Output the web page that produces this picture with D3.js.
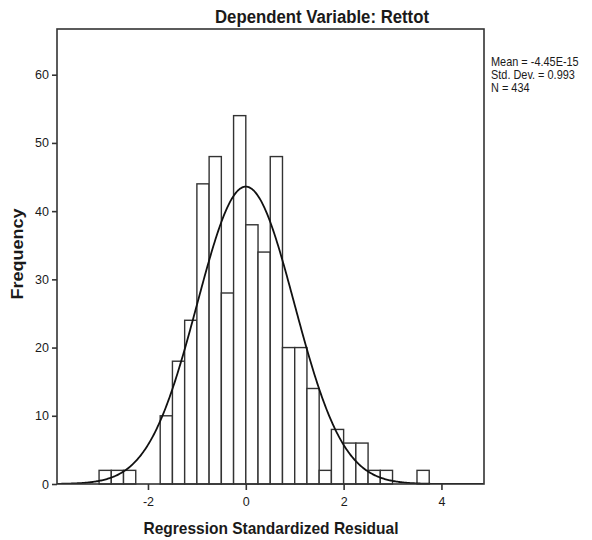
<html>
<head>
<title>Histogram</title>
<script src="https://cdnjs.cloudflare.com/ajax/libs/d3/7.8.5/d3.min.js"></script>
<style>
    body { margin: 0; background: #fff; }
    text { font-family: "Liberation Sans", Arial, sans-serif; fill: #1a1a1a; }
</style>
</head>
<body>
<div id="chart"></div>
<script type="text/javascript">
    // histogram data (lower edge of each bin, width 0.25)
    var binLower = [-3.0, -2.75, -2.5, -2.25, -2.0, -1.75, -1.5, -1.25, -1.0, -0.75, -0.5, -0.25,
                    0.0, 0.25, 0.5, 0.75, 1.0, 1.25, 1.5, 1.75, 2.0, 2.25, 2.5, 2.75, 3.0, 3.25, 3.5];
    var counts   = [2, 2, 2, 0, 0, 10, 18, 24, 44, 48, 28, 54,
                    38, 34, 48, 20, 20, 14, 2, 8, 6, 6, 2, 2, 0, 0, 2];
    var binWidth = 0.25;

    // summary stats shown at the right
    var statLabels = ["Mean = -4.45E-15", "Std. Dev. = 0.993", "N = 434"];
    var mean = -4.45e-15;
    var sd = 0.993;
    var n = 434;

    var xTicks = [-2, 0, 2, 4];
    var yTicks = [0, 10, 20, 30, 40, 50, 60];

    var w = 592;
    var h = 540;
    // plot frame (note: "top" is taken by window.top, so use other names)
    var plotLeft = 57, plotRight = 484, plotTop = 29, plotBottom = 484;
    var squash = 0.91; // the source text looks a bit narrow

    var x = d3.scaleLinear().domain([-3.86, 4.87]).range([plotLeft, plotRight]);
    var y = d3.scaleLinear().domain([0, 66.7]).range([plotBottom, plotTop]);

    var svg = d3.select("#chart").append("svg")
        .attr("width", w)
        .attr("height", h);

    // clip so the curve stays in the frame
    svg.append("clipPath").attr("id", "plotClip")
        .append("rect")
        .attr("x", plotLeft).attr("y", plotTop)
        .attr("width", plotRight - plotLeft).attr("height", plotBottom - plotTop);

    var bins = binLower.map(function(d, i) { return {x0: d, x1: d + binWidth, count: counts[i]}; })
        .filter(function(d) { return d.count > 0; });

    svg.append("g").selectAll("rect")
        .data(bins)
        .enter()
        .append("rect")
        .attr("x", function(d) { return x(d.x0); })
        .attr("y", function(d) { return y(d.count); })
        .attr("width", function(d) { return x(d.x1) - x(d.x0); })
        .attr("height", function(d) { return y(0) - y(d.count); })
        .attr("fill", "#fff")
        .attr("stroke", "#333")
        .attr("stroke-width", 1.4);

    // normal curve from the mean / sd / n shown in the legend
    var xs = d3.range(-3.86, 4.88, 0.02);
    var curve = xs.map(function(v) {
        var z = (v - mean) / sd;
        return {x: v, y: n * binWidth * Math.exp(-0.5 * z * z) / (sd * Math.sqrt(2 * Math.PI))};
    });
    var line = d3.line()
        .x(function(d) { return x(d.x); })
        .y(function(d) { return y(d.y); });
    svg.append("path")
        .attr("clip-path", "url(#plotClip)")
        .attr("d", line(curve))
        .attr("fill", "none")
        .attr("stroke", "#111")
        .attr("stroke-width", 1.8);

    // frame
    svg.append("rect")
        .attr("x", plotLeft).attr("y", plotTop)
        .attr("width", plotRight - plotLeft).attr("height", plotBottom - plotTop)
        .attr("fill", "none")
        .attr("stroke", "#333")
        .attr("stroke-width", 1.6);

    // axes
    var xAxisG = svg.append("g")
        .attr("transform", "translate(0," + plotBottom + ")")
        .call(d3.axisBottom(x).tickValues(xTicks).tickSize(6).tickPadding(7)
            .tickFormat(function(d) { return String(d); }));
    var yAxisG = svg.append("g")
        .attr("transform", "translate(" + plotLeft + ",0)")
        .call(d3.axisLeft(y).tickValues(yTicks).tickSize(5).tickPadding(3)
            .tickFormat(function(d) { return String(d); }));
    [xAxisG, yAxisG].forEach(function(g) {
        g.select(".domain").remove();
        g.selectAll(".tick line").attr("stroke", "#333").attr("stroke-width", 1.6);
        g.selectAll(".tick text")
            .attr("font-family", "Liberation Sans, Arial, sans-serif")
            .attr("font-size", 12.5)
            .attr("fill", "#1a1a1a");
    });

    // title and axis labels
    svg.append("text")
        .attr("x", 322).attr("y", 23)
        .attr("text-anchor", "middle")
        .attr("font-size", 18).attr("font-weight", "bold")
        .attr("textLength", 214).attr("lengthAdjust", "spacingAndGlyphs")
        .text("Dependent Variable: Rettot");

    svg.append("text")
        .attr("x", 271).attr("y", 534)
        .attr("text-anchor", "middle")
        .attr("font-size", 17).attr("font-weight", "bold")
        .attr("textLength", 255).attr("lengthAdjust", "spacingAndGlyphs")
        .text("Regression Standardized Residual");

    svg.append("text")
        .attr("transform", "translate(23,254) rotate(-90) scale(1," + squash + ")")
        .attr("text-anchor", "middle")
        .attr("font-size", 18).attr("font-weight", "bold")
        .text("Frequency");

    // stats box text
    svg.append("g").selectAll("text")
        .data(statLabels)
        .enter()
        .append("text")
        .attr("transform", function(d, i) { return "translate(491," + (65.7 + i * 13.3) + ") scale(" + squash + ",1)"; })
        .attr("font-size", 12)
        .text(function(d) { return d; });
</script>
</body>
</html>
